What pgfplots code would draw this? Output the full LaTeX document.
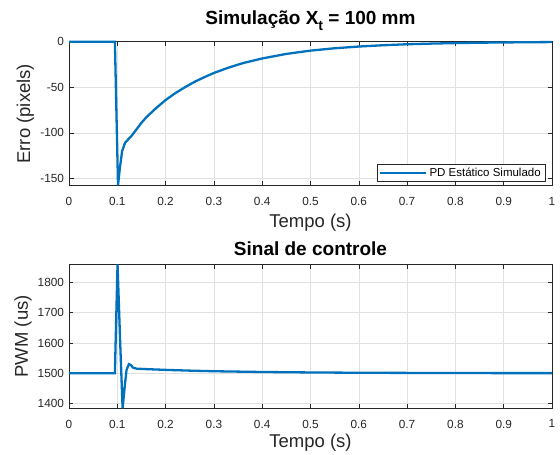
\documentclass[border=0pt]{standalone}
\usepackage{pgfplots}
\pgfplotsset{compat=1.18}
\usepackage{fontspec}
\setmainfont{Liberation Sans}
\definecolor{mblue}{RGB}{0,114,189}
\definecolor{axgray}{RGB}{38,38,38}
\definecolor{gridgray}{RGB}{225,225,225}
\pgfplotsset{
  every axis/.style={
    scale only axis,
    width=483pt,
    height=144pt,
    xmin=0, xmax=1,
    xtick={0,0.1,...,1},
    xticklabels={0,0.1,0.2,0.3,0.4,0.5,0.6,0.7,0.8,0.9,1},
    tick align=inside,
    major tick length=4.5pt,
    axis line style={axgray, line width=0.6pt},
    every tick/.style={axgray, line width=0.6pt},
    grid=major,
    major grid style={gridgray, line width=0.6pt},
    tick label style={font=\fontsize{11.8}{14}\selectfont, text=axgray},
    xticklabel style={yshift=-8pt},
    yticklabel style={xshift=-1.5pt},
    label style={font=\fontsize{18.5}{21}\selectfont, text=axgray},
    title style={font=\fontsize{19}{22}\selectfont\bfseries, text=black,
      at={(axis description cs:0.5,1)}, anchor=base},
    /pgf/number format/assume math mode=true,
    /pgf/number format/1000 sep={},
    clip=false,
    xlabel={Tempo (s)},
  }
}
\begin{document}
\begin{tikzpicture}[x=1pt,y=1pt]
\useasboundingbox (0,0) rectangle (560,455);
\begin{axis}[
  at={(69pt,269.3pt)}, anchor=south west,
  ymin=-158, ymax=0,
  ytick={-150,-100,-50,0},
  ylabel={Erro (pixels)},
  ylabel style={at={(axis description cs:-0.0807,0.5)}, anchor=base},
  xlabel style={at={(axis description cs:0.5,0)}, anchor=base, yshift=-42pt},
  title={Simulação X\raisebox{-0.32em}{\fontsize{14}{14}\selectfont t} = 100 mm},
  title style={yshift=11.5pt},
  legend style={at={(0.9855,0.028)}, anchor=south east,
    font=\fontsize{11.5}{13.5}\selectfont, text=black, draw=axgray, line width=0.5pt,
    inner xsep=2pt, inner ysep=1.5pt},
  legend cell align=left,
  legend image code/.code={\draw[#1] (0pt,0pt) -- (46pt,0pt);},
]
\addplot[mblue, line width=2.3pt] coordinates {
(0,0) (0.095,0) (0.1015,-157.5) (0.105,-140) (0.11,-120) (0.116,-111) (0.122,-107.5)
(0.13,-103) (0.14,-96) (0.15,-89) (0.16,-83) (0.17,-78) (0.18,-73) (0.19,-68.5)
(0.2,-64) (0.22,-56.5) (0.24,-50) (0.26,-44) (0.28,-39) (0.3,-34.3) (0.33,-28.5)
(0.36,-23.5) (0.4,-18.4) (0.45,-13.4) (0.5,-9.8) (0.55,-7.2) (0.6,-5.3) (0.65,-3.9)
(0.7,-2.8) (0.75,-2.1) (0.8,-1.5) (0.85,-1.1) (0.9,-0.8) (0.95,-0.6) (1.0,-0.4)
};
\addlegendentry{PD Estático Simulado}
\end{axis}
\begin{axis}[
  at={(69pt,46.7pt)}, anchor=south west,
  ymin=1384, ymax=1860,
  ytick={1400,1500,1600,1700,1800},
  ylabel={PWM (us)},
  ylabel style={at={(axis description cs:-0.0849,0.5)}, anchor=base},
  xlabel style={at={(axis description cs:0.5,0)}, anchor=base, yshift=-39pt},
  title={Sinal de controle},
  title style={yshift=3pt},
]
\addplot[mblue, line width=2.3pt] coordinates {
(0,1500) (0.095,1500) (0.1005,1860) (0.106,1600) (0.111,1384) (0.115,1450) (0.119,1510)
(0.124,1530) (0.128,1527) (0.133,1518) (0.14,1515) (0.16,1513.5) (0.2,1511) (0.25,1508.5)
(0.3,1506.5) (0.4,1504) (0.5,1502.5) (0.6,1501.5) (0.7,1501) (0.8,1500.5) (0.9,1500.3) (1.0,1500.2)
};
\end{axis}
\end{tikzpicture}
\end{document}
